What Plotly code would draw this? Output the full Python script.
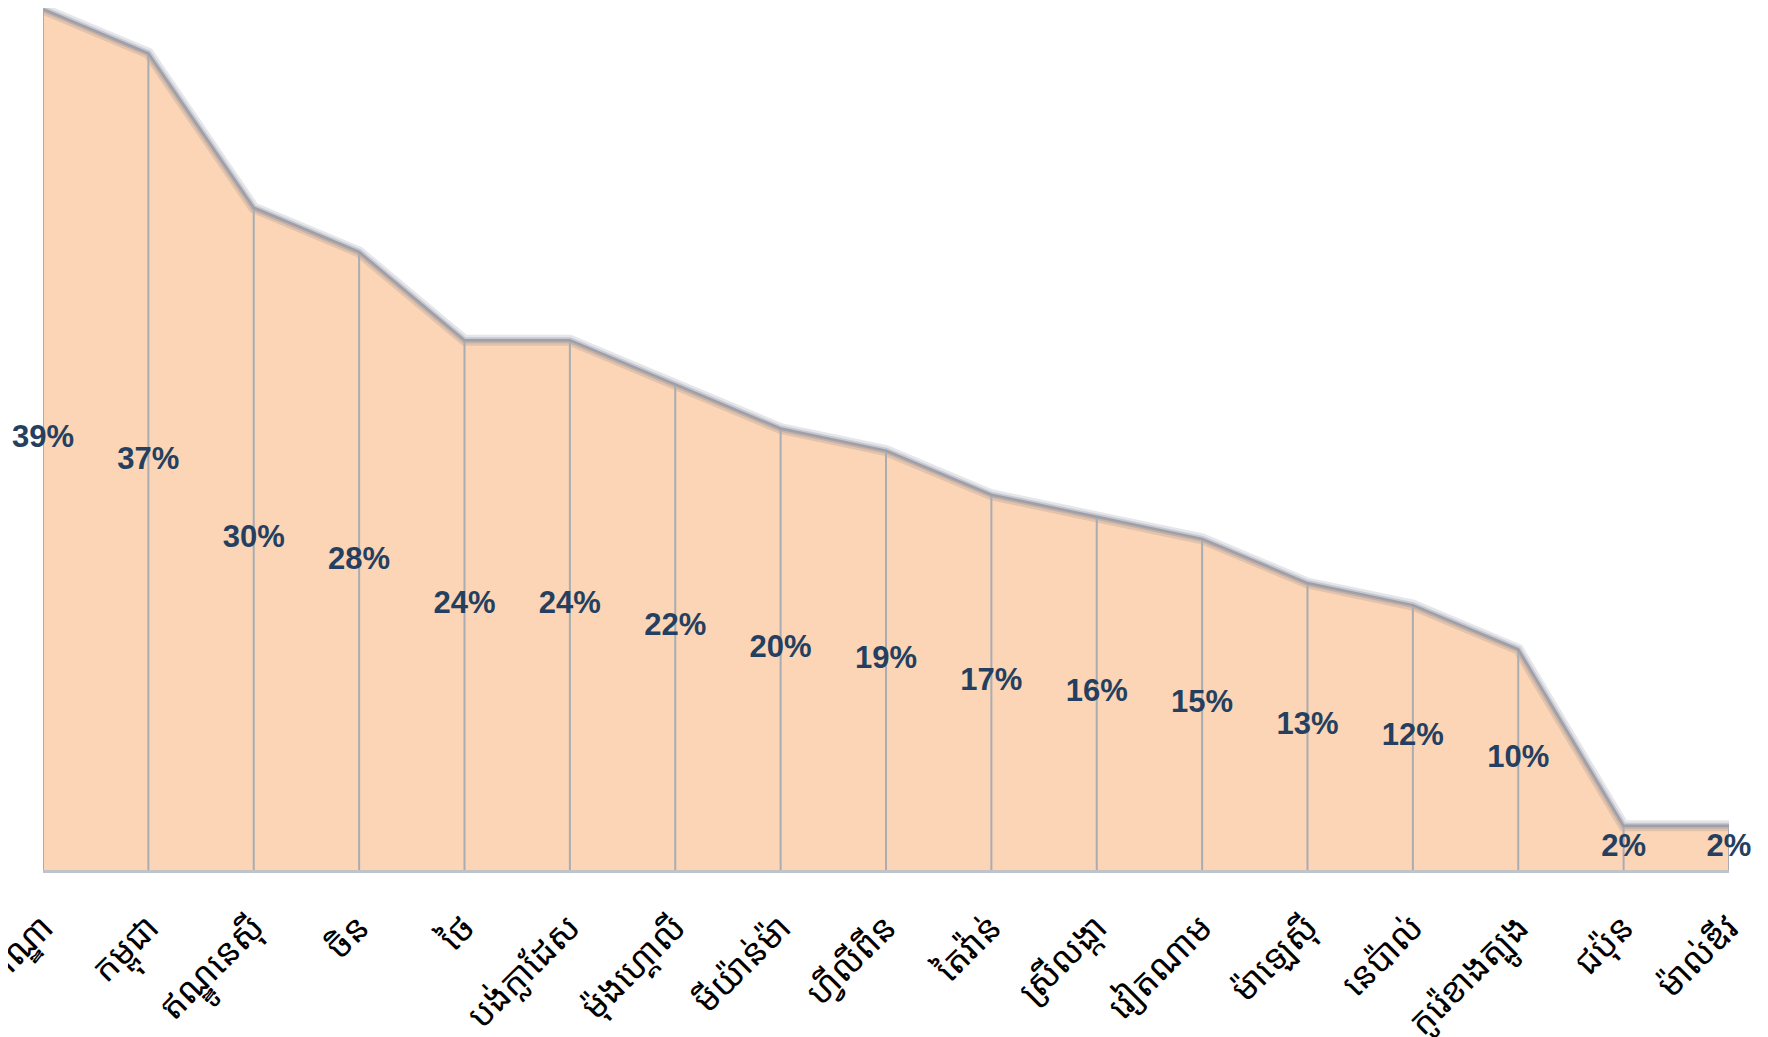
import plotly.graph_objects as go

countries = ["ឥណ្ឌា", "កម្ពុជា", "ឥណ្ឌូនេស៊ី", "ចិន", "ថៃ", "បង់ក្លាដែស",
             "ម៉ុងហ្គោលី", "មីយ៉ាន់ម៉ា", "ហ្វីលីពីន", "តៃវ៉ាន់", "ស្រីលង្កា",
             "វៀតណាម", "ម៉ាឡេស៊ី", "នេប៉ាល់", "កូរ៉េខាងត្បូង", "ជប៉ុន", "ម៉ាល់ឌីវ"]
values = [39, 37, 30, 28, 24, 24, 22, 20, 19, 17, 16, 15, 13, 12, 10, 2, 2]

idx = list(range(len(countries)))

fig = go.Figure()

# filled area with soft inner glow
fig.add_trace(go.Scatter(
    x=idx, y=values, mode="lines", fill="tozeroy",
    fillcolor="#FBD5B5", line=dict(color="rgba(110,115,140,0.18)", width=11),
    hoverinfo="skip", showlegend=False))
fig.add_trace(go.Scatter(
    x=idx, y=values, mode="lines",
    line=dict(color="rgba(110,115,140,0.25)", width=6),
    hoverinfo="skip", showlegend=False))

# vertical drop lines
dx, dy = [], []
for i, v in zip(idx, values):
    dx += [i, i, None]
    dy += [0, v, None]
fig.add_trace(go.Scatter(x=dx, y=dy, mode="lines",
                         line=dict(color="#A9ACB3", width=2),
                         hoverinfo="skip", showlegend=False))

# top outline
fig.add_trace(go.Scatter(x=idx, y=values, mode="lines",
                         line=dict(color="#9E9FA8", width=2.5),
                         hoverinfo="skip", showlegend=False))

# data labels (centered in area)
fig.add_trace(go.Scatter(
    x=idx, y=[v / 2 for v in values], mode="text",
    text=[f"{v}%" for v in values], textposition="middle center",
    textfont=dict(family="Liberation Sans, Arial, sans-serif",
                  size=31, color="#243F60", weight="bold"),
    hoverinfo="skip", showlegend=False, cliponaxis=False))

fig.update_layout(
    width=1760, height=1029,
    margin=dict(l=35, r=39, t=0, b=167),
    paper_bgcolor="white", plot_bgcolor="white",
    xaxis=dict(range=[0, len(countries) - 1], tickvals=idx, ticktext=countries,
               tickangle=-45, showgrid=False, zeroline=False, automargin=False,
               showline=True, linecolor="#BFC3CA", linewidth=3,
               ticks="outside", ticklen=20, tickcolor="rgba(0,0,0,0)",
               ticklabeloverflow="allow",
               tickfont=dict(family="Noto Sans Khmer, Khmer OS, Noto Sans, sans-serif",
                             size=35, color="black")),
    yaxis=dict(range=[0, 39.05], showgrid=False, zeroline=False, showticklabels=False,
               showline=False, automargin=False),
)

fig.write_html("out.html")
